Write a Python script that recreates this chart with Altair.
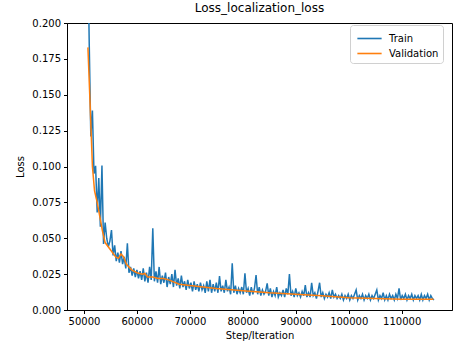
import altair as alt
import pandas as pd

TITLE = "Loss_localization_loss"
X_TITLE = "Step/Iteration"
Y_TITLE = "Loss"
SERIES = ["Train", "Validation"]
COLORS = ["#1f77b4", "#ff7f0e"]
X_TICKS = [50000, 60000, 70000, 80000, 90000, 100000, 110000]
Y_TICKS = [0.0, 0.025, 0.05, 0.075, 0.1, 0.125, 0.15, 0.175, 0.2]

# train loss, logged every 300 steps starting at 50700
TRAIN_START = 50700
TRAIN_INTERVAL = 300
train_loss = [
    0.26, 0.185, 0.121, 0.139, 0.095, 0.1005, 0.068, 0.092, 0.058, 0.1006,
    0.046, 0.061, 0.050, 0.044, 0.048, 0.0557, 0.038, 0.045, 0.034, 0.040,
    0.033, 0.041, 0.032, 0.037, 0.029, 0.0465, 0.026, 0.030, 0.024, 0.029,
    0.023, 0.028, 0.022, 0.027, 0.021, 0.029, 0.020, 0.026, 0.019, 0.030,
    0.021, 0.057, 0.020, 0.027, 0.019, 0.030, 0.018, 0.024, 0.019, 0.026,
    0.016, 0.023, 0.018, 0.025, 0.016, 0.028, 0.017, 0.022, 0.015, 0.024,
    0.016, 0.020, 0.014, 0.021, 0.015, 0.019, 0.013, 0.020, 0.014, 0.018,
    0.013, 0.019, 0.014, 0.017, 0.012, 0.020, 0.013, 0.021, 0.012, 0.018,
    0.013, 0.019, 0.012, 0.0237, 0.013, 0.017, 0.012, 0.021, 0.013, 0.016,
    0.011, 0.0325, 0.012, 0.017, 0.011, 0.015, 0.012, 0.016, 0.011, 0.0256,
    0.012, 0.015, 0.010, 0.016, 0.011, 0.015, 0.0244, 0.011, 0.016, 0.010,
    0.014, 0.011, 0.013, 0.0186, 0.010, 0.015, 0.009, 0.013, 0.010, 0.016,
    0.009, 0.012, 0.010, 0.014, 0.009, 0.015, 0.011, 0.025, 0.010, 0.013,
    0.009, 0.015, 0.010, 0.012, 0.009, 0.013, 0.010, 0.0174, 0.009, 0.012,
    0.009, 0.019, 0.010, 0.012, 0.008, 0.013, 0.019, 0.009, 0.012, 0.008,
    0.011, 0.009, 0.012, 0.008, 0.014, 0.009, 0.011, 0.008, 0.010, 0.008,
    0.011, 0.007, 0.010, 0.008, 0.011, 0.007, 0.010, 0.008, 0.011, 0.014,
    0.007, 0.010, 0.008, 0.011, 0.007, 0.010, 0.008, 0.011, 0.007, 0.010,
    0.008, 0.011, 0.014, 0.007, 0.010, 0.008, 0.012, 0.007, 0.010, 0.007,
    0.011, 0.008, 0.010, 0.007, 0.011, 0.008, 0.015, 0.007, 0.010, 0.008,
    0.011, 0.007, 0.010, 0.008, 0.011, 0.007, 0.010, 0.008, 0.010, 0.007,
    0.011, 0.007, 0.010, 0.008, 0.011, 0.007, 0.010, 0.008, 0.007,
]

val_steps = [
    50750, 51200, 51600, 52000, 52500, 53000, 53500, 54000, 55000, 56000,
    56500, 57000, 57500, 58000, 59000, 60000, 61000, 61500, 62000, 63000,
    64000, 65000, 66000, 68000, 70000, 75000, 80000, 85000, 90000, 95000,
    100000, 105000, 110000, 116000,
]
val_loss = [
    0.183, 0.14, 0.10, 0.083, 0.075, 0.065, 0.055, 0.047, 0.042, 0.037,
    0.036, 0.039, 0.037, 0.032, 0.028, 0.026, 0.025, 0.0255, 0.023, 0.023,
    0.022, 0.022, 0.021, 0.018, 0.017, 0.015, 0.0135, 0.012, 0.011, 0.010,
    0.0085, 0.008, 0.0075, 0.0075,
]

train_df = pd.DataFrame({
    "step": [TRAIN_START + TRAIN_INTERVAL * i for i in range(len(train_loss))],
    "loss": train_loss,
    "series": "Train",
})
val_df = pd.DataFrame({"step": val_steps, "loss": val_loss, "series": "Validation"})

FONT = "DejaVu Sans"

x_enc = alt.X(
    "step:Q",
    title=X_TITLE,
    scale=alt.Scale(domain=[46800, 119500], nice=False, zero=False),
    axis=alt.Axis(values=X_TICKS, format="d"),
)
y_enc = alt.Y(
    "loss:Q",
    title=Y_TITLE,
    scale=alt.Scale(domain=[0, 0.2], nice=False),
    axis=alt.Axis(values=Y_TICKS, format=".3f"),
)
color_enc = alt.Color(
    "series:N",
    scale=alt.Scale(domain=SERIES, range=COLORS),
    legend=alt.Legend(
        title=None,
        orient="none",
        legendX=283,
        legendY=2,
        symbolType="M-1.4,0H1.4",
        symbolSize=300,
        symbolStrokeWidth=1.6,
        symbolOffset=6,
        labelFontSize=10,
        labelFont=FONT,
        labelColor="#000000",
        labelOffset=10,
        rowPadding=0,
        padding=4,
        strokeColor="#d0d0d0",
        cornerRadius=3,
        fillColor="#ffffff",
    ),
)

train_line = alt.Chart(train_df).mark_line(strokeWidth=1.5, clip=True).encode(
    x=x_enc, y=y_enc, color=color_enc
)
val_line = alt.Chart(val_df).mark_line(strokeWidth=1.5, clip=True).encode(
    x=x_enc, y=y_enc, color=color_enc
)

chart = (
    alt.layer(train_line, val_line)
    .properties(
        width=385,
        height=287,
        title=alt.TitleParams(TITLE, fontSize=12, font=FONT, fontWeight="normal", offset=3, color="#000000"),
        autosize=alt.AutoSizeParams(type="none"),
        padding={"left": 67, "top": 23, "right": 3, "bottom": 37},
        background="#ffffff",
    )
    .configure_view(stroke="#000000", strokeWidth=1)
    .configure_axis(
        grid=False,
        domainColor="#000000",
        tickColor="#000000",
        tickSize=3.5,
        labelColor="#000000",
        titleColor="#000000",
        labelFont=FONT,
        titleFont=FONT,
        labelFontSize=10,
        titleFontSize=10,
        titleFontWeight="normal",
        labelPadding=3,
    )
    .configure_axisX(titlePadding=4)
    .configure_axisY(titlePadding=6)
)

chart.save("out.html", embed_options={"renderer": "svg", "actions": False})
